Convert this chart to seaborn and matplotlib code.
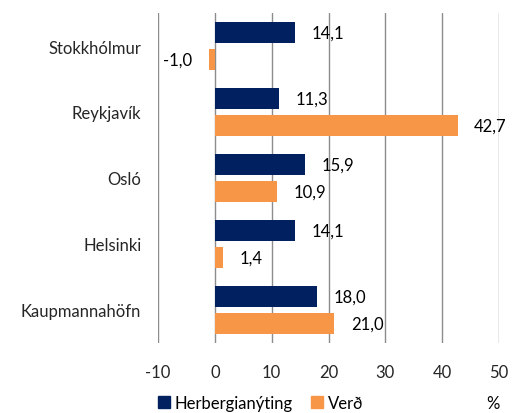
import pandas as pd
import matplotlib.pyplot as plt
import matplotlib
import seaborn as sn
from matplotlib.patches import Patch

# data
cities = ['Stokkhólmur', 'Reykjavík', 'Osló', 'Helsinki', 'Kaupmannahöfn']
occupancy = [14.1, 11.3, 15.9, 14.1, 18.0]
price = [-1.0, 42.7, 10.9, 1.4, 21.0]
series_names = ['Herbergianýting', 'Verð']
x_ticks = [-10, 0, 10, 20, 30, 40, 50]

navy = '#002060'
orange = '#F79646'
grid_col = '#8C8C8C'

sn.set_style('white')
matplotlib.rcParams['font.family'] = ['Lato', 'DejaVu Sans']
matplotlib.rcParams['font.size'] = 12
matplotlib.rcParams['text.color'] = 'k'

df = pd.DataFrame({
    'city': cities * 2,
    'value': occupancy + price,
    'series': [series_names[0]] * len(cities) + [series_names[1]] * len(cities),
})

fig = plt.figure(figsize=(5.25, 4.14), dpi=100)
ax = fig.add_axes([158 / 525, 1 - 344 / 414, (499 - 158) / 525, (344 - 14) / 414])

sn.barplot(data=df, x='value', y='city', hue='series', orient='h',
           palette=[navy, orange], width=0.82, gap=0.2, ax=ax,
           saturation=1, edgecolor='none')
ax.legend_.remove()

# value labels with comma decimal
for cont in ax.containers:
    vals = cont.datavalues
    ax.bar_label(cont, labels=[f'{v:.1f}'.replace('.', ',') for v in vals],
                 padding=12, fontsize=12)

ax.set_xlim(-10, 50)
ax.set_xticks(x_ticks)
ax.set_xticklabels([str(t) for t in x_ticks])
ax.set_xlabel('')
ax.set_ylabel('')
ax.xaxis.grid(True, color=grid_col, linewidth=1)
ax.set_axisbelow(True)
for s in ax.spines.values():
    s.set_visible(False)
ax.tick_params(axis='x', length=4, color=grid_col, pad=11, labelsize=12)
ax.tick_params(axis='y', length=0, pad=12, labelsize=12)

handles = [Patch(color=navy), Patch(color=orange)]
fig.legend(handles, series_names, loc='center left', bbox_to_anchor=(0.288, 0.024),
           ncol=2, frameon=False, handlelength=0.7, handleheight=0.7,
           handletextpad=0.3, columnspacing=1.1, fontsize=12, borderaxespad=0)
fig.text(493 / 525, 0.024, '%', ha='center', va='center', fontsize=12)

fig.savefig('out.png', dpi=100)
